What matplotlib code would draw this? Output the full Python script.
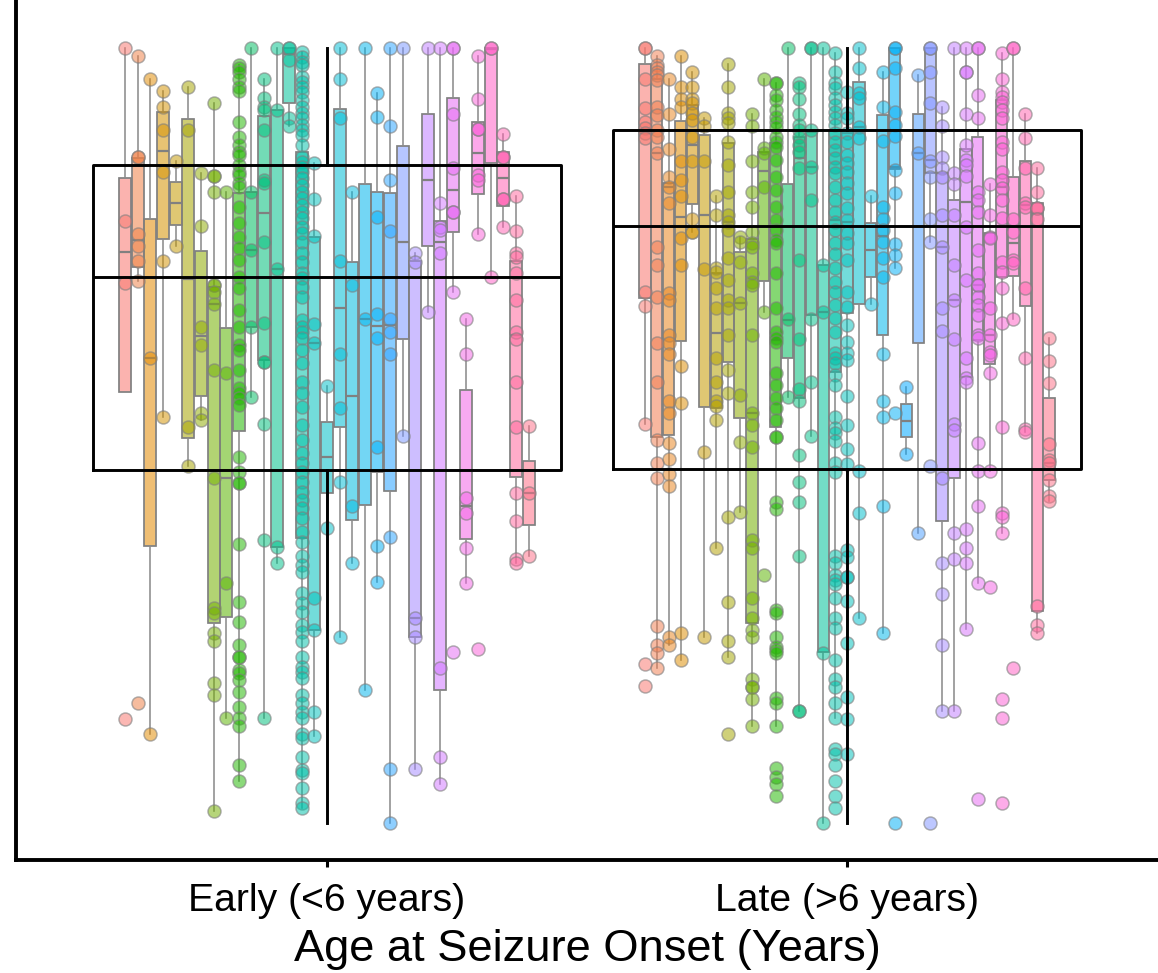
#!/usr/bin/env python3
"""Boxes per hue with overlaid points, split by age at seizure onset."""
import numpy as np
import matplotlib
matplotlib.use("Agg")
import matplotlib.pyplot as plt

plt.rcParams["font.family"] = ["Liberation Sans", "DejaVu Sans"]

# no y scale is printed on the chart, so values are readings measured from the
# top of the panel downwards (small = high up), and the y axis is inverted

groups = ["Early (<6 years)", "Late (>6 years)"]

# overall box of each group
all_hi = [48, 48]
all_top = [165, 130]
all_mid = [277, 226]
all_bottom = [470, 469]
all_lo = [823, 823]

# ---- early onset, one entry per hue ----
early_hi = [48, 56, 79, 91, 161, 87, 173, 103, 192, 65, 48, 79, 48, 48, 52, 163, 386,
            48, 192, 48, 93, 48, 48, 253, 48, 48, 48, 319, 56, 48, 134, 196, 426]
early_top = [178, 158, 219, 112, 182, 119, 251, 287, 328, 193, 192, 116, 110, 48, 152, 237, 422,
             109, 262, 184, 192, 193, 146, 261, 114, 221, 98, 390, 122, 48, 152, 261, 461]
early_mid = [252, 240, 358, 151, 203, 279, 336, 304, 478, 345, 250, 213, 269, 54, 277, 343, 457,
             308, 396, 319, 326, 325, 242, 618, 180, 242, 190, 506, 153, 49, 178, 335, 493]
early_bottom = [392, 267, 546, 239, 225, 438, 396, 623, 617, 431, 327, 360, 547, 103, 538, 630, 493,
                427, 520, 505, 472, 491, 339, 637, 246, 690, 232, 539, 194, 163, 206, 477, 525]
early_lo = [392, 281, 734, 417, 246, 466, 420, 811, 718, 781, 397, 718, 563, 126, 808, 736, 528,
            637, 563, 690, 582, 823, 436, 769, 312, 784, 292, 583, 234, 277, 227, 563, 556]
early_points = [
    [48, 221, 283, 719],
    [56, 157, 157, 234, 246, 261, 281, 703],
    [79, 358, 734],
    [91, 107, 130, 172, 261, 417],
    [161, 246],
    [87, 130, 427, 466],
    [173, 226, 327, 345, 413, 420],
    [103, 176, 176, 192, 285, 285, 292, 304, 370, 478, 608, 613, 633, 641, 683, 695, 811],
    [192, 373, 583, 718],
    [65, 68, 72, 79, 87, 91, 122, 137, 145, 152, 155, 165, 172, 175, 183, 187, 207, 223, 237,
     248, 260, 277, 288, 310, 327, 345, 350, 370, 388, 393, 398, 405, 457, 472, 483, 483, 544,
     602, 622, 645, 657, 657, 670, 673, 680, 692, 707, 718, 726, 765, 781],
    [48, 192, 250, 327, 397],
    [79, 98, 107, 110, 130, 180, 183, 242, 323, 362, 362, 424, 540, 718],
    [48, 110, 269, 547, 563],
    [48, 48, 60, 118, 126],
    [52, 57, 62, 65, 77, 82, 87, 92, 100, 107, 113, 118, 125, 130, 135, 145, 157, 162, 167, 172,
     178, 185, 192, 198, 205, 212, 218, 227, 233, 242, 253, 262, 273, 278, 287, 297, 320, 327,
     332, 338, 350, 363, 382, 393, 407, 425, 440, 453, 463, 472, 482, 492, 500, 508, 518, 532,
     542, 556, 565, 572, 593, 603, 612, 625, 632, 641, 657, 667, 672, 678, 695, 703, 712, 718,
     734, 738, 757, 770, 773, 788, 803, 808],
    [163, 199, 236, 324, 343, 598, 630, 712, 736],
    [386, 528],
    [48, 79, 118, 261, 354, 408, 482, 637],
    [192, 285, 506, 563],
    [48, 319, 690],
    [93, 117, 217, 314, 338, 447, 546, 582],
    [48, 126, 180, 231, 319, 332, 354, 537, 769, 823],
    [48, 436],
    [253, 262, 618, 637, 769],
    [48, 312],
    [48, 203, 227, 230, 253, 668, 757, 784],
    [48, 48, 114, 168, 212, 212, 292, 652],
    [319, 354, 498, 513, 548, 583],
    [56, 99, 129, 129, 175, 180, 234, 649],
    [48, 48, 277],
    [134, 157, 157, 199, 199, 227],
    [196, 231, 253, 257, 273, 300, 332, 339, 382, 427, 493, 521, 559, 563],
    [426, 493, 556],
]

# ---- late onset, one entry per hue ----
late_hi = [48, 56, 79, 56, 72, 118, 196, 64, 237, 114, 79, 83, 48, 83, 48, 48, 53, 92,
           48, 196, 72, 48, 387, 75, 48, 107, 48, 48, 48, 184, 53, 48, 114, 168, 338]
late_top = [64, 79, 183, 121, 105, 135, 273, 143, 252, 239, 152, 143, 184, 137, 132, 265, 130, 133,
            82, 223, 115, 48, 404, 114, 48, 173, 200, 149, 137, 233, 100, 177, 161, 203, 398]
late_mid = [133, 153, 187, 217, 145, 215, 333, 222, 303, 413, 171, 340, 320, 158, 167, 312, 220, 222,
            127, 250, 236, 167, 421, 153, 160, 247, 300, 202, 285, 335, 187, 243, 205, 213, 463]
late_bottom = [298, 437, 435, 341, 204, 407, 408, 362, 418, 623, 281, 427, 358, 398, 315, 652, 372, 313,
               304, 277, 335, 169, 437, 343, 173, 521, 478, 377, 340, 364, 277, 276, 306, 611, 480]
late_lo = [424, 668, 645, 660, 232, 637, 548, 657, 512, 726, 312, 726, 397, 711, 436, 823, 718, 754,
           618, 304, 633, 268, 454, 533, 242, 711, 711, 629, 583, 471, 533, 319, 432, 633, 501]
late_points = [
    [48, 48, 79, 108, 122, 128, 133, 138, 292, 306, 424, 664, 686],
    [56, 65, 68, 72, 75, 80, 107, 115, 130, 137, 153, 247, 265, 297, 343, 382, 440, 463, 478,
     626, 645, 653, 668],
    [79, 114, 149, 177, 187, 203, 293, 300, 335, 343, 354, 401, 413, 443, 459, 474, 486, 637, 645],
    [56, 87, 99, 107, 161, 180, 196, 238, 265, 366, 403, 633, 660],
    [72, 87, 99, 103, 113, 120, 137, 161, 219, 232, 232],
    [118, 126, 161, 269, 452, 637],
    [196, 215, 268, 272, 288, 308, 358, 382, 401, 406, 420, 548],
    [64, 87, 113, 118, 123, 142, 165, 192, 215, 222, 230, 258, 280, 300, 308, 335, 370, 393,
     517, 602, 641, 657, 734],
    [237, 242, 262, 303, 395, 442, 512],
    [114, 126, 161, 192, 207, 232, 243, 247, 273, 282, 285, 335, 413, 425, 447, 540, 548, 598,
     618, 630, 637, 679, 687, 687, 699, 726],
    [79, 148, 153, 187, 312, 575],
    [83, 83, 95, 100, 110, 117, 122, 127, 137, 142, 147, 160, 177, 190, 207, 220, 230, 240, 243,
     273, 308, 332, 338, 342, 373, 385, 398, 408, 420, 437, 437, 502, 509, 610, 613, 637, 647,
     650, 653, 698, 703, 726, 768, 777, 784, 796],
    [48, 319, 397],
    [83, 87, 99, 114, 125, 130, 137, 145, 152, 168, 260, 339, 389, 401, 455, 482, 502, 556, 711, 711],
    [48, 48, 130, 167, 200, 319, 382, 436],
    [48, 265, 312, 653, 823],
    [53, 72, 83, 88, 98, 105, 112, 118, 125, 133, 142, 150, 158, 167, 173, 187, 200, 212, 222,
     230, 243, 254, 268, 282, 292, 305, 318, 332, 353, 358, 363, 375, 385, 417, 428, 433, 441,
     463, 472, 556, 563, 575, 580, 584, 598, 618, 628, 660, 679, 687, 703, 718, 749, 754, 765,
     781, 796, 808],
    [92, 113, 118, 133, 142, 155, 163, 172, 183, 193, 208, 220, 233, 243, 260, 292, 307, 325,
     342, 353, 360, 396, 425, 449, 464, 550, 557, 577, 577, 601, 643, 697, 719, 754],
    [48, 68, 93, 98, 127, 138, 471, 513, 618],
    [196, 304],
    [72, 107, 141, 207, 219, 230, 242, 258, 277, 354, 401, 417, 506, 633],
    [48, 48, 68, 112, 125, 136, 170, 193, 244, 255, 268, 413, 823],
    [387, 454],
    [75, 153, 533],
    [48, 48, 72, 103, 161, 177, 219, 242, 466, 823],
    [107, 126, 157, 168, 177, 215, 247, 308, 331, 478, 563, 594, 645, 711],
    [48, 173, 184, 215, 265, 300, 339, 424, 430, 533, 559, 711],
    [48, 72, 72, 114, 145, 160, 165, 176, 227, 280, 358, 378, 382, 529, 548, 563, 629],
    [48, 48, 95, 118, 192, 200, 212, 250, 273, 285, 285, 297, 305, 315, 335, 338, 443, 471, 506, 583, 799],
    [184, 215, 237, 238, 308, 335, 352, 355, 373, 471, 587],
    [53, 79, 92, 97, 102, 110, 118, 142, 149, 172, 180, 188, 200, 218, 262, 272, 288, 323, 427,
     513, 517, 533, 699, 718, 803],
    [48, 48, 219, 232, 260, 263, 319, 668],
    [114, 138, 168, 203, 207, 288, 358, 429, 432],
    [168, 192, 208, 208, 219, 606, 625, 633],
    [338, 361, 383, 444, 460, 463, 480, 496, 501],
]

# hue angle of each box (not evenly spaced around green)
early_hues = [15, 28, 42, 54, 66, 85, 97, 108, 116, 126, 148, 158, 165, 172, 180, 190, 197,
              205, 212, 222, 232, 248, 260, 272, 282, 290, 302, 313, 322, 332, 343, 354, 4]
late_hues = [15, 25, 36, 46, 56, 66, 77, 87, 97, 108, 116, 126, 148, 158, 165, 172, 180, 190,
             200, 211, 221, 231, 242, 252, 262, 272, 283, 293, 303, 314, 324, 334, 345, 355, 5]


def hue_color(deg):
    """polar LUV colour at l=65 c=100, same family as ggplot default hues."""
    h = np.deg2rad(deg)
    L, C = 65.0, 100.0
    up = C * np.cos(h) / (13 * L) + 0.19784
    vp = C * np.sin(h) / (13 * L) + 0.46834
    Y = ((L + 16) / 116) ** 3
    X = Y * 9 * up / (4 * vp)
    Z = Y * (12 - 3 * up - 20 * vp) / (4 * vp)
    rgb = np.array([[3.2406, -1.5372, -0.4986],
                    [-0.9689, 1.8758, 0.0415],
                    [0.0557, -0.2040, 1.0570]]) @ np.array([X, Y, Z])
    rgb = np.clip(rgb, 0, 1)
    rgb = np.where(rgb <= 0.0031308, 12.92 * rgb, 1.055 * rgb ** (1 / 2.4) - 0.055)
    return tuple(rgb)


def draw_group(ax, center, hues, hi, top, mid, bottom, lo, points):
    n = len(mid)
    step = 0.8 / n
    colors = [hue_color(h) for h in hues]
    pos = center + (np.arange(n) - (n - 1) / 2) * step
    stats = [dict(whishi=hi[i], q3=top[i], med=mid[i], q1=bottom[i], whislo=lo[i], fliers=[])
             for i in range(n)]
    art = ax.bxp(stats, positions=pos, widths=step * 0.95, patch_artist=True,
                 showcaps=False, showfliers=False, manage_ticks=False,
                 boxprops=dict(edgecolor="#808080", linewidth=1.25),
                 medianprops=dict(color="#808080", linewidth=1.6),
                 whiskerprops=dict(color="#8c8c8c", linewidth=1.15))
    for box, c in zip(art["boxes"], colors):
        box.set_facecolor((*c, 0.55))
    for i in range(n):
        ax.scatter(np.full(len(points[i]), pos[i]), points[i], s=88, color=[(*colors[i], 0.52)],
                   edgecolors=[(0.5, 0.5, 0.5, 0.6)], linewidths=1.1, zorder=4)


fig = plt.figure(figsize=(11.58, 9.73), dpi=100)
ax = fig.add_axes([16 / 1158, 113 / 973, 1142 / 1158, 860 / 973])

draw_group(ax, 0, early_hues, early_hi, early_top, early_mid, early_bottom, early_lo, early_points)
draw_group(ax, 1, late_hues, late_hi, late_top, late_mid, late_bottom, late_lo, late_points)

# big unfilled box of each group goes over everything
overall = [dict(whishi=all_hi[i], q3=all_top[i], med=all_mid[i], q1=all_bottom[i],
                whislo=all_lo[i], fliers=[]) for i in range(2)]
ax.bxp(overall, positions=[0, 1], widths=0.9, showcaps=False, showfliers=False,
       manage_ticks=False, zorder=6,
       boxprops=dict(color="black", linewidth=2.1),
       medianprops=dict(color="black", linewidth=2.1),
       whiskerprops=dict(color="black", linewidth=2.1))

ax.set_xlim(-0.598, 1.598)
ax.set_ylim(860, 0)
ax.set_xticks([0, 1])
ax.set_xticklabels(groups)
ax.set_yticks([])
ax.tick_params(axis="x", labelsize=28.2, length=5, width=2.2, pad=11.5)
ax.set_xlabel("Age at Seizure Onset (Years)", fontsize=32.6, labelpad=7)
for s in ("top", "right"):
    ax.spines[s].set_visible(False)
for s in ("bottom", "left"):
    ax.spines[s].set_linewidth(2.8)

fig.savefig("out.png", dpi=100, facecolor="white")
plt.close(fig)
